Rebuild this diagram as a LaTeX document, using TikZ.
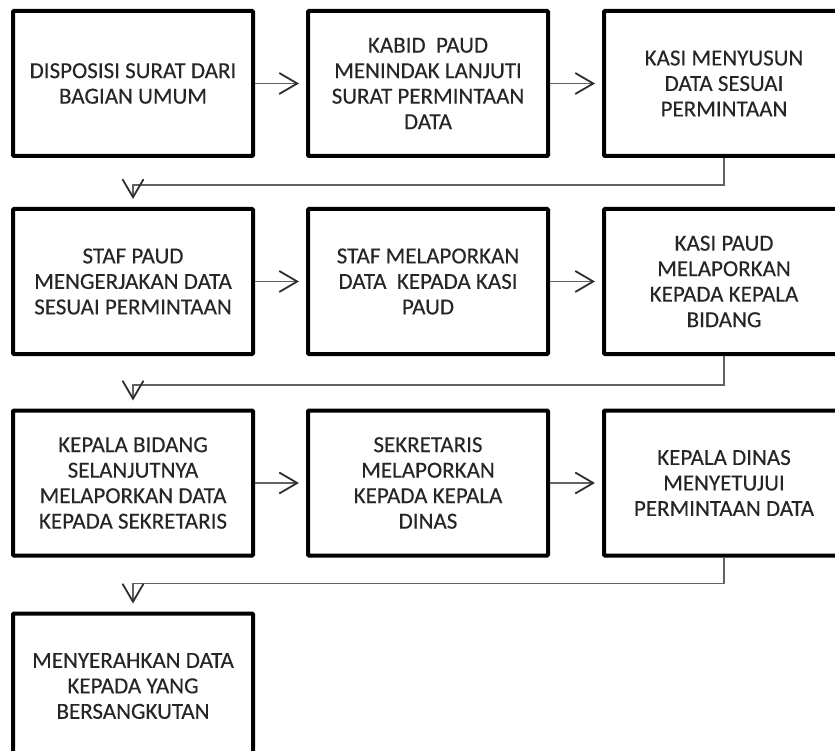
\documentclass[tikz,border=0pt]{standalone}
\usepackage{fontspec}
\setmainfont{Carlito}
\newfontfamily\boxfont[FakeBold=0.2]{Carlito}
\usetikzlibrary{arrows.meta}
\begin{document}
\begin{tikzpicture}[x=1pt,y=-1pt,
  stepbox/.style={draw=black,line width=4pt,rounded corners=1pt,minimum width=240pt,minimum height=145pt,
    align=center,inner sep=0pt,font=\boxfont\fontsize{23}{25.5}\selectfont,text=black!85},
  conn/.style={draw=black!62,line width=1.6pt,
    -{Straight Barb[length=18pt,width=21pt,line width=1.8pt,color=black!82]}},
]
\useasboundingbox (0,0) rectangle (835,751);
\clip (0,0) rectangle (835,751);
\node[stepbox] (a1) at (133,83.5) {DISPOSISI SURAT DARI\\BAGIAN UMUM};
\node[stepbox] (a2) at (428,83.5) {KABID~~PAUD\\MENINDAK LANJUTI\\SURAT PERMINTAAN\\DATA};
\node[stepbox] (a3) at (724,83.5) {KASI MENYUSUN\\DATA SESUAI\\PERMINTAAN};
\node[stepbox] (b1) at (133,281.5) {STAF PAUD\\MENGERJAKAN DATA\\SESUAI PERMINTAAN};
\node[stepbox] (b2) at (428,281.5) {STAF MELAPORKAN\\DATA~~KEPADA KASI\\PAUD};
\node[stepbox] (b3) at (724,281.5) {KASI PAUD\\MELAPORKAN\\KEPADA KEPALA\\BIDANG};
\node[stepbox] (c1) at (133,483) {KEPALA BIDANG\\SELANJUTNYA\\MELAPORKAN DATA\\KEPADA SEKRETARIS};
\node[stepbox] (c2) at (428,483) {SEKRETARIS\\MELAPORKAN\\KEPADA KEPALA\\DINAS};
\node[stepbox] (c3) at (724,483) {KEPALA DINAS\\MENYETUJUI\\PERMINTAAN DATA};
\node[stepbox] (d1) at (133,686) {MENYERAHKAN DATA\\KEPADA YANG\\BERSANGKUTAN};
\draw[conn,shorten >=7pt] (a1.east) -- (a2.west);
\draw[conn,shorten >=7pt] (a2.east) -- (a3.west);
\draw[conn,shorten >=7pt] (b1.east) -- (b2.west);
\draw[conn,shorten >=7pt] (b2.east) -- (b3.west);
\draw[conn,shorten >=7pt] (c1.east) -- (c2.west);
\draw[conn,shorten >=7pt] (c2.east) -- (c3.west);
\draw[conn,shorten >=8pt] (a3.south) -- ++(0,27) -| (b1.north);
\draw[conn,shorten >=8pt] (b3.south) -- ++(0,29) -| (c1.north);
\draw[conn,shorten >=8pt] (c3.south) -- ++(0,26) -| (d1.north);
\end{tikzpicture}
\end{document}
